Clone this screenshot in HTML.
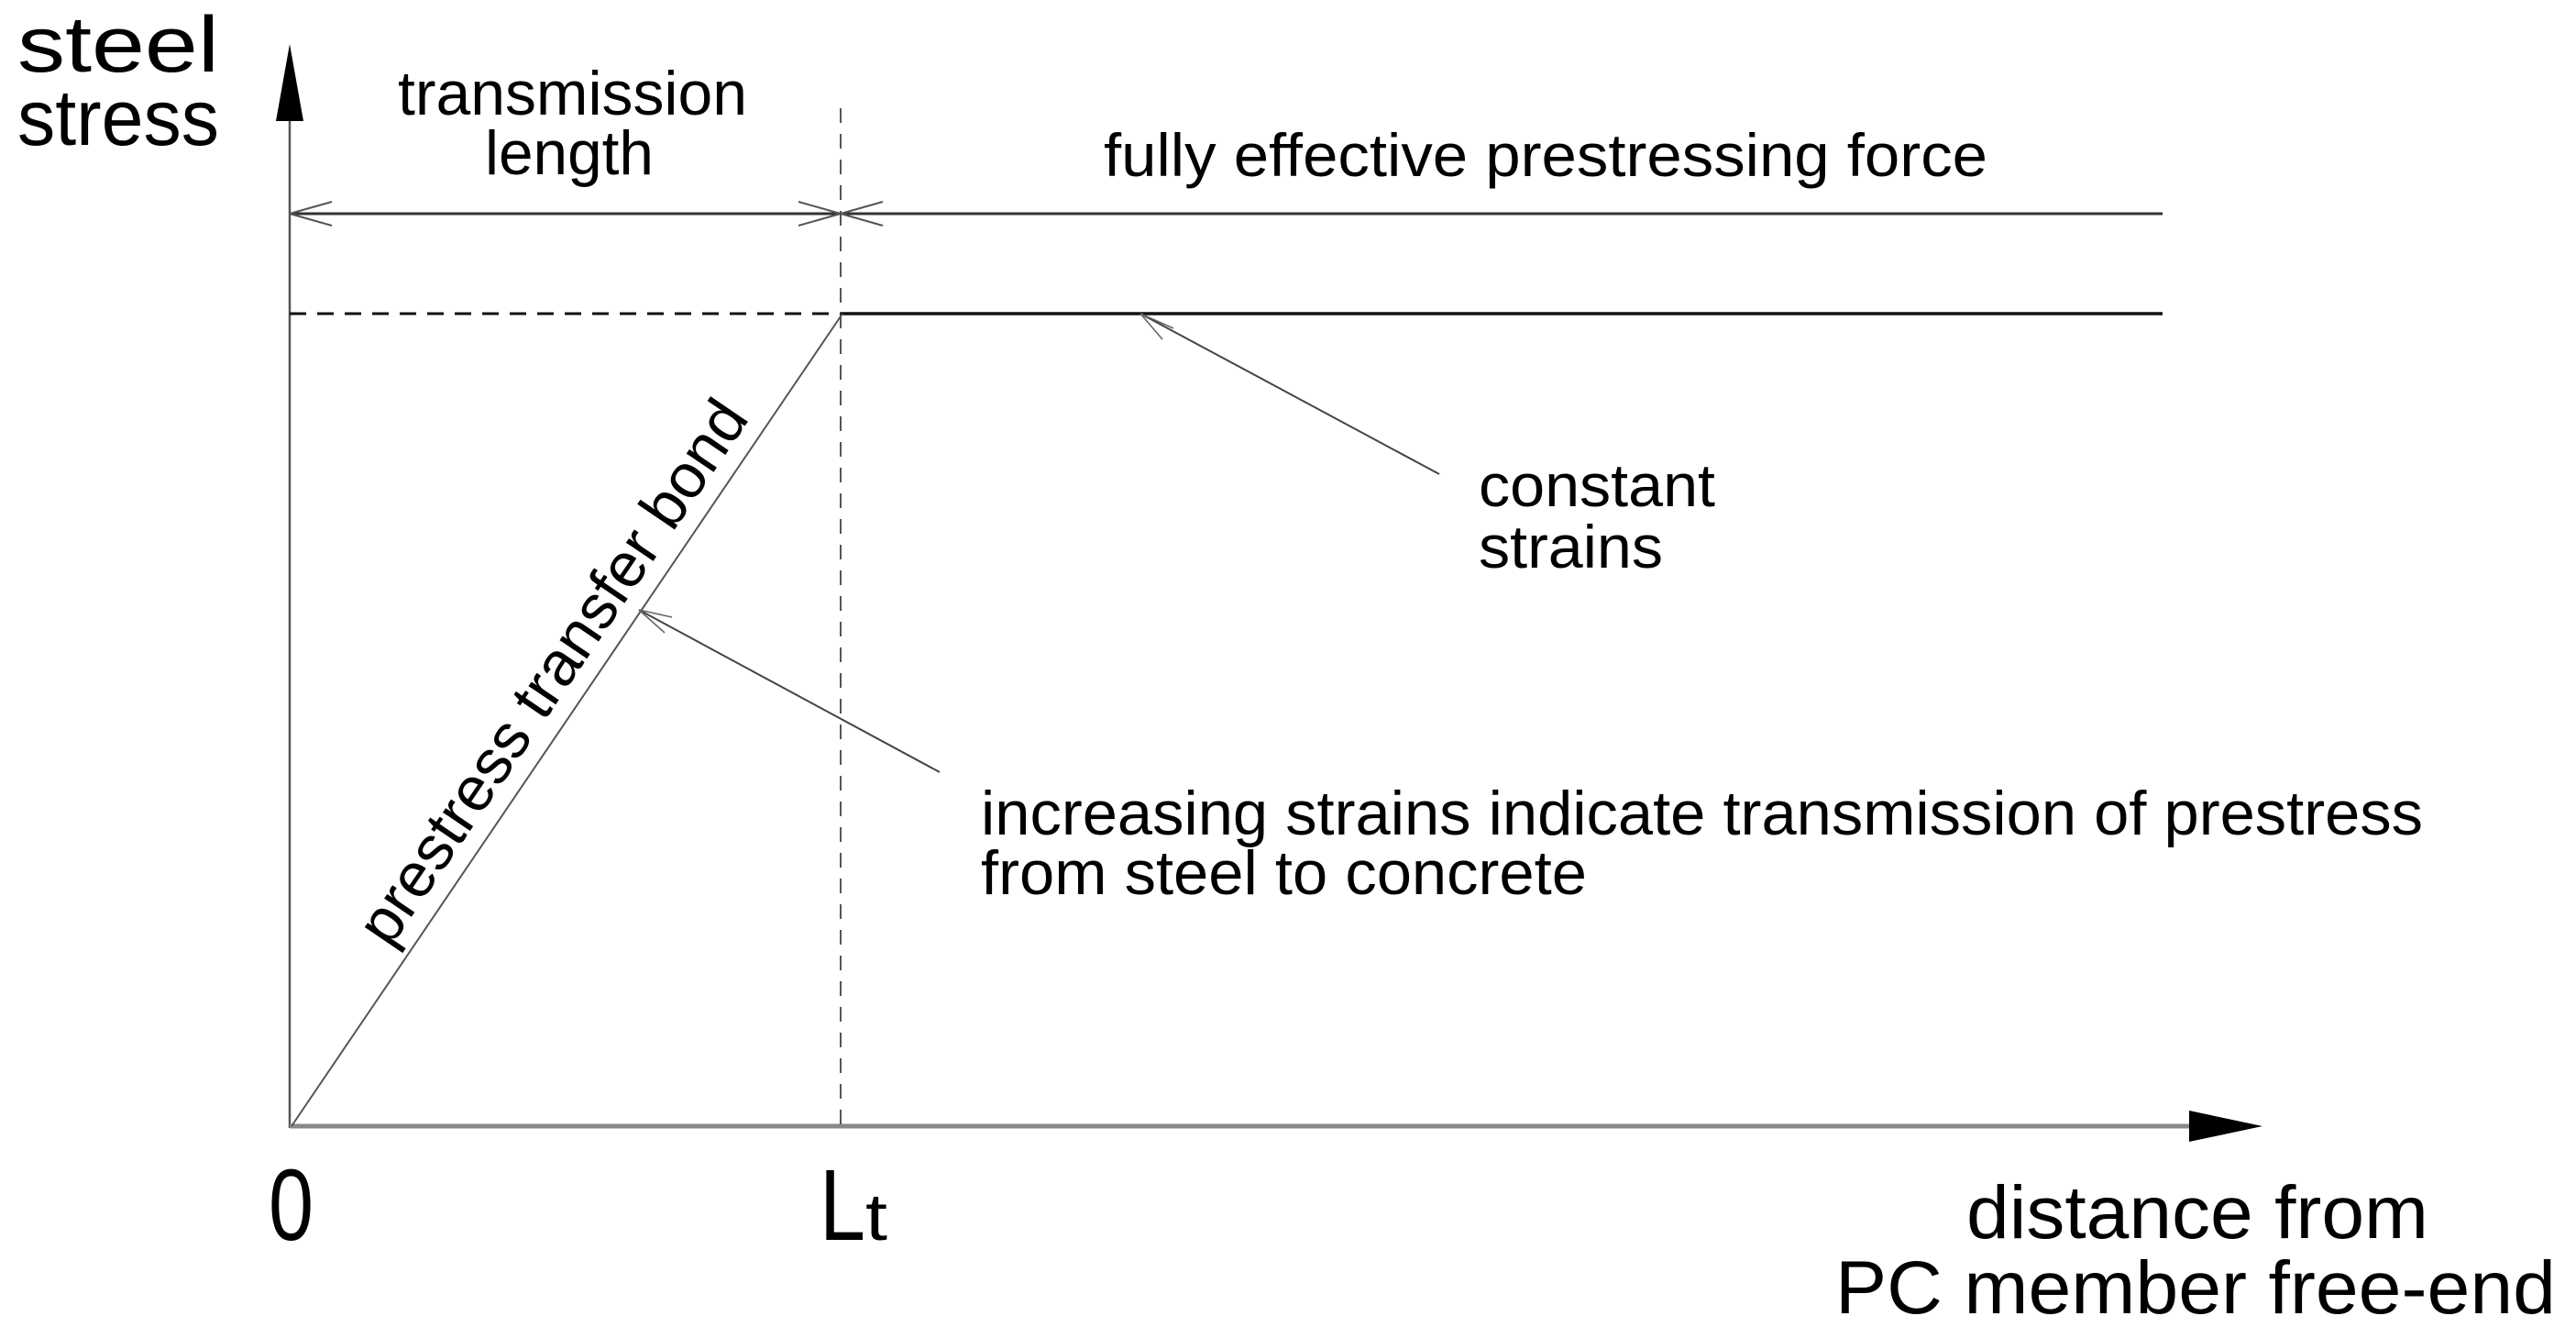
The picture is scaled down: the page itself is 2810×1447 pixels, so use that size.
<!DOCTYPE html>
<html><head><meta charset="utf-8"><style>
html,body{margin:0;padding:0;background:#fff;}
svg{display:block;}
text{font-family:"Liberation Sans",sans-serif;fill:#000;}
</style></head><body>
<svg width="2810" height="1447" viewBox="0 0 2810 1447" xmlns="http://www.w3.org/2000/svg">
<!-- axes -->
<line x1="316" y1="120" x2="316" y2="1230" stroke="#555" stroke-width="2.5"/>
<polygon points="316,48 301,132 331,132" fill="#000"/>
<line x1="316" y1="1228" x2="2400" y2="1228" stroke="#888" stroke-width="5"/>
<polygon points="2468,1228 2388,1211 2388,1245" fill="#000"/>
<!-- vertical dashed -->
<line x1="917" y1="118" x2="917" y2="1228" stroke="#555" stroke-width="2" stroke-dasharray="16,12"/>
<!-- top dimension line -->
<line x1="316" y1="233" x2="2359" y2="233" stroke="#333" stroke-width="3"/>
<path d="M316,233 L362,220 M316,233 L362,246" stroke="#555" stroke-width="2" fill="none"/>
<path d="M917,233 L871,220 M917,233 L871,246 M917,233 L963,220 M917,233 L963,246" stroke="#555" stroke-width="2" fill="none"/>
<!-- level line -->
<line x1="316" y1="342" x2="917" y2="342" stroke="#111" stroke-width="3" stroke-dasharray="18,12"/>
<line x1="917" y1="342" x2="2359" y2="342" stroke="#111" stroke-width="3.5"/>
<!-- diagonal -->
<line x1="318" y1="1228" x2="919" y2="342" stroke="#555" stroke-width="2"/>
<!-- leaders -->
<line x1="1244" y1="342" x2="1570" y2="517" stroke="#444" stroke-width="2"/>
<path d="M1244,342 L1268,370 M1244,342 L1280,358" stroke="#666" stroke-width="1.6" fill="none"/>
<line x1="697" y1="665" x2="1025" y2="842" stroke="#444" stroke-width="2"/>
<path d="M697,665 L733,673 M697,665 L725,690" stroke="#666" stroke-width="1.6" fill="none"/>
<!-- texts -->
<text x="19" y="78" font-size="86" textLength="220" lengthAdjust="spacingAndGlyphs" x2="0" style="" transform="">steel</text>
<text x="19" y="158" font-size="86" textLength="220" lengthAdjust="spacingAndGlyphs">stress</text>
<text x="434" y="125" font-size="68" textLength="381" lengthAdjust="spacingAndGlyphs">transmission</text>
<text x="529" y="190" font-size="68" textLength="184" lengthAdjust="spacingAndGlyphs">length</text>
<text x="1204" y="192" font-size="66" textLength="964" lengthAdjust="spacingAndGlyphs">fully effective prestressing force</text>
<text x="1613" y="552" font-size="66" textLength="258" lengthAdjust="spacingAndGlyphs">constant</text>
<text x="1613" y="619" font-size="66" textLength="201" lengthAdjust="spacingAndGlyphs">strains</text>
<text x="1070" y="910" font-size="68" textLength="1573" lengthAdjust="spacingAndGlyphs">increasing strains indicate transmission of prestress</text>
<text x="1070" y="975" font-size="68" textLength="661" lengthAdjust="spacingAndGlyphs">from steel to concrete</text>
<text x="425" y="1035" font-size="68" textLength="700" lengthAdjust="spacingAndGlyphs" transform="rotate(-55.8 425 1035)">prestress transfer bond</text>
<text x="293" y="1352" font-size="110" textLength="49" lengthAdjust="spacingAndGlyphs">0</text>
<text x="894" y="1352" font-size="110" textLength="50" lengthAdjust="spacingAndGlyphs">L</text>
<text x="944" y="1352" font-size="72" textLength="24" lengthAdjust="spacingAndGlyphs">t</text>
<text x="2145" y="1350" font-size="82" textLength="504" lengthAdjust="spacingAndGlyphs">distance from</text>
<text x="2002" y="1432" font-size="82" textLength="786" lengthAdjust="spacingAndGlyphs">PC member free-end</text>
</svg>
</body></html>
